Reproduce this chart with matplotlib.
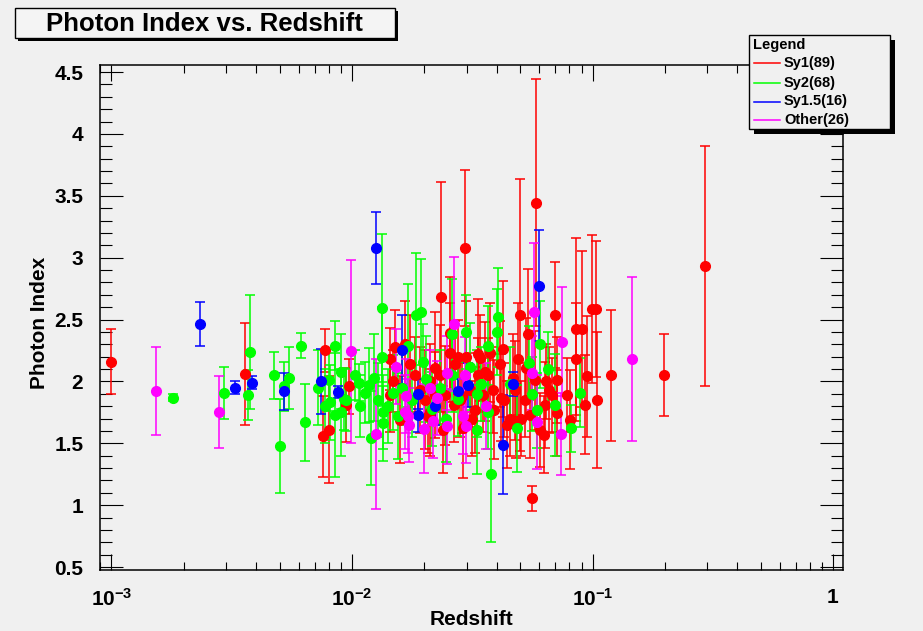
import numpy as np
import matplotlib
matplotlib.use("Agg")
import matplotlib.pyplot as plt
from matplotlib.patches import Rectangle
from matplotlib.ticker import FixedLocator, FixedFormatter, LogLocator, MultipleLocator, NullFormatter

plt.rcParams['font.family'] = ['Liberation Sans', 'DejaVu Sans']
plt.rcParams['mathtext.fontset'] = 'custom'
plt.rcParams['mathtext.bf'] = 'Liberation Sans:bold'
plt.rcParams['mathtext.rm'] = 'Liberation Sans:bold'

# Sy1 (red)
sy1_z = [0.00100, 0.00359, 0.00773, 0.0076, 0.00803, 0.00972, 0.0148, 0.0151, 0.0144, 0.0144,
         0.0234, 0.0295, 0.0500, 0.0582, 0.0698, 0.0995, 0.1035, 0.0855, 0.0906, 0.0855,
         0.0949, 0.1045, 0.1195, 0.199, 0.294, 0.0560, 0.0540, 0.0425, 0.0454, 0.0481,
         0.0505, 0.0467, 0.0416, 0.0629, 0.0660, 0.0713, 0.0641, 0.0530, 0.0375, 0.0340,
         0.0334, 0.0298, 0.0315, 0.0287, 0.0265, 0.0239, 0.0232, 0.0221, 0.0207, 0.0221,
         0.0255, 0.0255, 0.0211, 0.0276, 0.0367, 0.0334, 0.0166, 0.0174, 0.0182, 0.0191,
         0.0201, 0.0211, 0.0243, 0.0267, 0.0309, 0.0324, 0.0349, 0.0356, 0.0384, 0.0391,
         0.0430, 0.0439, 0.0474, 0.0488, 0.0522, 0.0549, 0.0576, 0.0605, 0.0635, 0.0681,
         0.0713, 0.0786, 0.0806, 0.0931, 0.0094, 0.0158, 0.0281, 0.0412, 0.0290]
sy1_g = [2.16, 2.06, 2.25, 1.555, 1.61, 1.96, 2.00, 2.28, 2.18, 1.89,
         2.68, 3.08, 2.535, 3.445, 2.535, 2.587, 2.587, 2.42, 2.42, 2.18,
         2.04, 1.85, 2.05, 2.05, 2.93, 1.056, 2.38, 2.26, 1.70, 1.68,
         1.70, 2.03, 1.87, 1.57, 1.93, 1.745, 2.00, 2.11, 2.23, 2.19,
         2.05, 2.20, 1.70, 1.88, 1.81, 1.61, 2.055, 2.11, 1.72, 1.89,
         2.23, 2.39, 1.75, 2.20, 2.05, 2.22, 2.30, 2.14, 2.055, 1.93,
         1.85, 2.00, 1.89, 2.14, 1.93, 1.77, 1.89, 2.08, 1.93, 1.77,
         1.85, 1.65, 1.93, 2.18, 1.85, 1.73, 2.01, 1.61, 1.81, 1.89,
         2.01, 1.89, 1.69, 1.81, 1.81, 1.69, 1.85, 2.14, 1.62]
sy1_e = [0.26, 0.41, 0.17, 0.33, 0.43, 0.22, 0.25, 0.30, 0.25, 0.30,
         0.93, 0.63, 1.10, 1.00, 0.43, 0.60, 0.55, 0.74, 0.63, 0.45,
         0.49, 0.55, 0.53, 0.33, 0.97, 0.10, 0.53, 0.55, 0.30, 0.30,
         0.30, 0.35, 0.35, 0.31, 0.35, 0.35, 0.30, 0.40, 0.40, 0.35,
         0.30, 0.45, 0.30, 0.30, 0.30, 0.35, 0.40, 0.45, 0.30, 0.35,
         0.40, 0.45, 0.35, 0.30, 0.30, 0.45, 0.35, 0.40, 0.30, 0.35,
         0.40, 0.30, 0.40, 0.35, 0.30, 0.35, 0.30, 0.40, 0.35, 0.40,
         0.30, 0.35, 0.40, 0.45, 0.30, 0.35, 0.40, 0.30, 0.35, 0.30,
         0.35, 0.30, 0.40, 0.40, 0.30, 0.35, 0.30, 0.35, 0.40]

# Sy2 (green)
sy2_z = [0.00180, 0.00294, 0.00370, 0.00377, 0.00474, 0.00502, 0.00521, 0.00547, 0.00614, 0.00638,
         0.00803, 0.00850, 0.00850, 0.0077, 0.0081, 0.0090, 0.0093, 0.0107, 0.0113, 0.0118,
         0.0123, 0.0133, 0.0133, 0.0135, 0.0135, 0.0120, 0.0184, 0.0193, 0.0171, 0.0197,
         0.0148, 0.0260, 0.0401, 0.0405, 0.0367, 0.0331, 0.0331, 0.0378, 0.0545, 0.0605,
         0.0698, 0.0814, 0.0888, 0.0588, 0.0094, 0.0141, 0.0155, 0.0161, 0.0178, 0.0203,
         0.0215, 0.0232, 0.0246, 0.0260, 0.0276, 0.0309, 0.0345, 0.0367, 0.0454, 0.0484,
         0.0560, 0.0654, 0.0108, 0.0128, 0.0103, 0.0072, 0.0090, 0.0298]
sy2_g = [1.87, 1.91, 1.89, 2.235, 2.05, 1.48, 1.96, 2.03, 2.29, 1.67,
         2.01, 2.29, 1.73, 1.80, 1.83, 1.75, 1.86, 1.99, 1.91, 1.97,
         2.03, 2.595, 2.20, 1.66, 1.75, 1.54, 2.535, 2.56, 2.29, 2.16,
         1.91, 2.38, 2.40, 2.52, 2.29, 1.90, 1.61, 1.25, 2.15, 2.30,
         1.81, 1.62, 1.91, 1.765, 1.85, 1.80, 1.72, 1.95, 1.85, 2.02,
         1.78, 1.95, 1.70, 2.05, 1.86, 2.12, 1.98, 1.75, 1.98, 1.62,
         1.90, 2.10, 1.80, 1.85, 2.05, 1.95, 2.08, 2.40]
sy2_e = [0.03, 0.21, 0.20, 0.46, 0.19, 0.38, 0.20, 0.25, 0.10, 0.31,
         0.25, 0.20, 0.50, 0.30, 0.30, 0.35, 0.25, 0.15, 0.25, 0.30,
         0.35, 0.60, 0.40, 0.30, 0.30, 0.38, 0.50, 0.43, 0.50, 0.30,
         0.30, 0.45, 0.35, 0.40, 0.32, 0.35, 0.36, 0.55, 0.30, 0.35,
         0.41, 0.19, 0.28, 0.30, 0.25, 0.30, 0.35, 0.30, 0.30, 0.35,
         0.30, 0.30, 0.35, 0.30, 0.30, 0.35, 0.30, 0.30, 0.30, 0.35,
         0.30, 0.30, 0.25, 0.30, 0.20, 0.30, 0.30, 0.30]

# Sy1.5 (blue)
sy15_z = [0.00233, 0.00327, 0.00384, 0.00521, 0.00743, 0.00875, 0.0126, 0.0161,
          0.0188, 0.0188, 0.0276, 0.0304, 0.0425, 0.0467, 0.0600, 0.0222]
sy15_g = [2.465, 1.95, 1.99, 1.92, 2.00, 1.915, 3.077, 2.257,
          1.90, 1.73, 1.92, 1.97, 1.49, 1.98, 2.775, 1.80]
sy15_e = [0.18, 0.05, 0.05, 0.15, 0.26, 0.05, 0.29, 0.28,
          0.12, 0.14, 0.10, 0.18, 0.40, 0.10, 0.45, 0.15]

# Other (magenta)
oth_z = [0.00153, 0.00280, 0.00991, 0.0126, 0.0152, 0.0168, 0.0166, 0.0173, 0.0199, 0.0217,
         0.0225, 0.0248, 0.0248, 0.0265, 0.0290, 0.0298, 0.0295, 0.0360, 0.0571, 0.0560,
         0.0588, 0.0747, 0.0740, 0.146, 0.0171, 0.0212]
oth_g = [1.925, 1.75, 2.243, 1.575, 2.12, 1.885, 1.75, 1.65, 1.617, 1.68,
         1.866, 1.636, 2.07, 2.465, 1.717, 1.64, 2.055, 1.80, 2.56, 2.07,
         1.67, 2.32, 1.575, 2.18, 1.72, 1.95]
oth_e = [0.355, 0.29, 0.74, 0.61, 0.30, 0.30, 0.30, 0.30, 0.36, 0.30,
         0.30, 0.30, 0.30, 0.54, 0.30, 0.30, 0.30, 0.35, 0.56, 0.30,
         0.38, 0.44, 0.335, 0.66, 0.30, 0.30]

groups = [("Sy1", sy1_z, sy1_g, sy1_e, "#ff0000"),
          ("Sy2", sy2_z, sy2_g, sy2_e, "#00ff00"),
          ("Sy1.5", sy15_z, sy15_g, sy15_e, "#0000ff"),
          ("Other", oth_z, oth_g, oth_e, "#ff00ff")]

BG = "#f0f0f0"
W, H = 923, 631

fig = plt.figure(figsize=(W / 100, H / 100), dpi=100, facecolor=BG)
ax = fig.add_axes([100 / W, 1 - 570 / H, 743 / W, 505 / H], facecolor=BG)

for name, z, g, e, col in groups:
    ax.errorbar(z, g, yerr=e, fmt="o", color=col, ms=7, mec=col,
                elinewidth=1.1, capsize=3.5, capthick=1.1)

ax.set_xscale("log")
ax.set_xlim(0.000896, 1.10)
ax.set_ylim(0.476, 4.557)

ax.xaxis.set_major_locator(FixedLocator([1e-3, 1e-2, 1e-1, 1]))
ax.xaxis.set_major_formatter(FixedFormatter([r"$\mathbf{10^{-3}}$", r"$\mathbf{10^{-2}}$",
                                             r"$\mathbf{10^{-1}}$", r"$\mathbf{1}$"]))
ax.xaxis.set_minor_locator(LogLocator(base=10, subs=np.arange(2, 10), numticks=20))
ax.xaxis.set_minor_formatter(NullFormatter())
ax.yaxis.set_major_locator(MultipleLocator(0.5))
ax.yaxis.set_minor_locator(MultipleLocator(0.1))
ax.yaxis.set_major_formatter(matplotlib.ticker.FuncFormatter(lambda v, p: "%g" % v))

ax.tick_params(which="both", direction="in", top=True, right=True, width=0.8, color="black")
ax.tick_params(axis="x", which="major", length=11.5, pad=13, labelsize=15)
ax.tick_params(axis="x", which="minor", length=5.8)
ax.tick_params(axis="y", which="major", length=16.5, pad=12, labelsize=15)
ax.tick_params(axis="y", which="minor", length=8.3)
for lab in ax.get_yticklabels():
    lab.set_fontweight("bold")
for sp in ax.spines.values():
    sp.set_linewidth(1.1)

ax.set_xlabel("Redshift", fontsize=15, fontweight="bold", labelpad=0)
ax.set_ylabel("Photon Index", fontsize=15, fontweight="bold")
ax.yaxis.set_label_coords(-0.068, 0.49)

# overlay in pixel coordinates for title box and legend
ov = fig.add_axes([0, 0, 1, 1], zorder=10)
ov.set_xlim(0, W)
ov.set_ylim(H, 0)
ov.axis("off")
ov.patch.set_alpha(0)

ov.add_patch(Rectangle((18, 11), 380, 30, fc="black", ec="none"))
ov.add_patch(Rectangle((15, 8), 380, 30, fc="#f4f4f4", ec="black", lw=1))
ov.text(204, 24, "Photon Index vs. Redshift", ha="center", va="center",
        fontsize=18.5, fontweight="bold")

ov.add_patch(Rectangle((754, 40), 141, 94, fc="black", ec="none"))
ov.add_patch(Rectangle((749, 35), 141, 94, fc=BG, ec="black", lw=1))
ov.text(753, 44.5, "Legend", ha="left", va="center", fontsize=10.5, fontweight="bold")
rows = [63, 82.5, 101.5, 120]
for (name, z, g, e, col), ry in zip(groups, rows):
    ov.plot([754, 780], [ry, ry], color=col, lw=1.1)
    ov.text(784, ry, "%s(%d)" % (name, len(z)), ha="left", va="center",
            fontsize=10.5, fontweight="bold")

fig.savefig("out.png", dpi=100, facecolor=BG)
